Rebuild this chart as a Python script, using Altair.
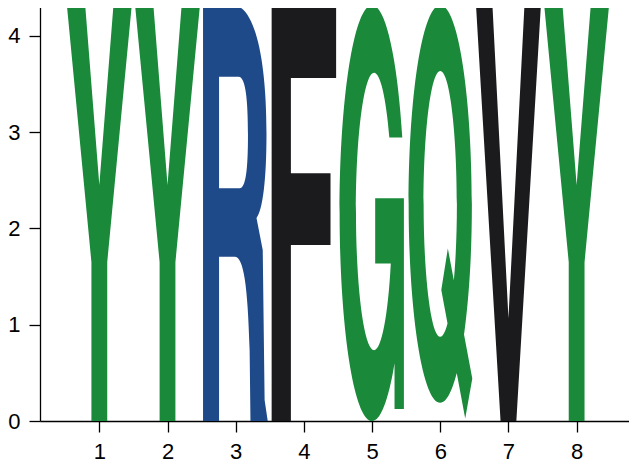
import altair as alt
import pandas as pd

# sequence logo: one residue per position, each at full height
positions = [1, 2, 3, 4, 5, 6, 7, 8]
residues = ['Y', 'Y', 'R', 'F', 'G', 'Q', 'V', 'Y']
bits = [4.32, 4.32, 4.32, 4.32, 4.32, 4.32, 4.32, 4.32]

letters = ['Y', 'R', 'F', 'G', 'Q', 'V']
letter_colors = ['#1a893a', '#1e4a89', '#1b1a1d', '#1a893a', '#1a893a', '#1b1a1d']

# stretched glyph outlines, unit box -1..1 tall
glyphs = {
    'Y': "M-0.156,-1 L-0.068,-1 L0,-0.135 L0.068,-1 L0.156,-1 L0.038,0.236 "
         "L0.038,1 L-0.038,1 L-0.038,0.236 Z",
    'R': "M-0.157,-1 L-0.014,-1 C0.087,-1 0.148,-0.76 0.148,-0.385 "
         "C0.148,-0.159 0.13,-0.014 0.1,0.024 L0.13,0.178 L0.139,0.899 L0.154,1 "
         "L0.071,1 L0.067,0.659 C0.058,0.346 0.038,0.21 -0.005,0.21 L-0.08,0.21 "
         "L-0.08,1 L-0.157,1 Z "
         "M-0.08,-0.655 L-0.08,-0.119 L0.019,-0.119 C0.048,-0.119 0.059,-0.207 0.059,-0.375 "
         "C0.059,-0.543 0.048,-0.655 0.014,-0.655 Z",
    'F': "M-0.155,-1 L0.155,-1 L0.155,-0.649 L-0.0625,-0.649 L-0.0625,-0.191 "
         "L0.128,-0.191 L0.128,0.154 L-0.0625,0.154 L-0.0625,1 L-0.155,1 Z",
    'G': "M0.1453,-0.364 A0.156 1 0 0 0 0,-1 A0.156 1 0 0 0 -0.156,0 "
         "A0.156 1 0 0 0 0,1 A0.156 1 0 0 0 0.108,0.722 L0.108,0.942 L0.153,0.942 "
         "L0.153,-0.071 L0.015,-0.071 L0.015,0.242 L0.09,0.242 "
         "A0.087 0.667 0 0 1 0.0096,0.659 A0.087 0.667 0 0 1 -0.0774,-0.008 "
         "A0.087 0.667 0 0 1 0.0096,-0.675 A0.087 0.667 0 0 1 0.083,-0.364 Z",
    'Q': "M0,-1 A0.152 0.956 0 0 1 0.152,-0.044 A0.152 0.956 0 0 1 0,0.912 "
         "A0.152 0.956 0 0 1 -0.152,-0.044 A0.152 0.956 0 0 1 0,-1 Z "
         "M0,-0.683 A0.08 0.639 0 0 0 -0.08,-0.044 A0.08 0.639 0 0 0 0,0.595 "
         "A0.08 0.639 0 0 0 0.08,-0.044 A0.08 0.639 0 0 0 0,-0.683 Z "
         "M0.0365,0.17 L0.154,0.795 L0.12,0.987 L0.005,0.37 Z",
    'V': "M-0.156,-1 L-0.077,-1 L0,0.506 L0.077,-1 L0.156,-1 L0.038,1 L-0.038,1 Z",
}

df = pd.DataFrame({'pos': positions, 'residue': residues, 'bits': bits})

H = 416  # plot height in px, letters fill it

chart = alt.Chart(df).transform_calculate(
    mid='datum.bits / 2'
).mark_point(filled=True, opacity=1, strokeWidth=0).encode(
    x=alt.X('pos:Q', scale=alt.Scale(domain=[0.13, 8.768], nice=False, zero=False),
            axis=alt.Axis(values=positions, format='d', title=None)),
    y=alt.Y('mid:Q', scale=alt.Scale(domain=[0, 4.3219], nice=False),
            axis=alt.Axis(values=[0, 1, 2, 3, 4], title=None)),
    shape=alt.Shape('residue:N', scale=alt.Scale(domain=letters, range=[glyphs[l] for l in letters]),
                    legend=None),
    color=alt.Color('residue:N', scale=alt.Scale(domain=letters, range=letter_colors), legend=None),
    size=alt.value(H * H),
).properties(
    width=589,
    height=H,
    autosize=alt.AutoSizeParams(type='none'),
    padding={'left': 32, 'top': -3, 'right': 0, 'bottom': 42},
).configure_view(
    stroke=None
).configure_axis(
    grid=False,
    domainColor='black',
    domainWidth=1.3,
    tickColor='black',
    tickWidth=1.3,
    tickSize=11,
    labelFont='Liberation Sans',
    labelFontSize=22,
    labelColor='black',
    labelPadding=9,
)

chart.save("out.html", embed_options={"renderer": "svg", "actions": False})
